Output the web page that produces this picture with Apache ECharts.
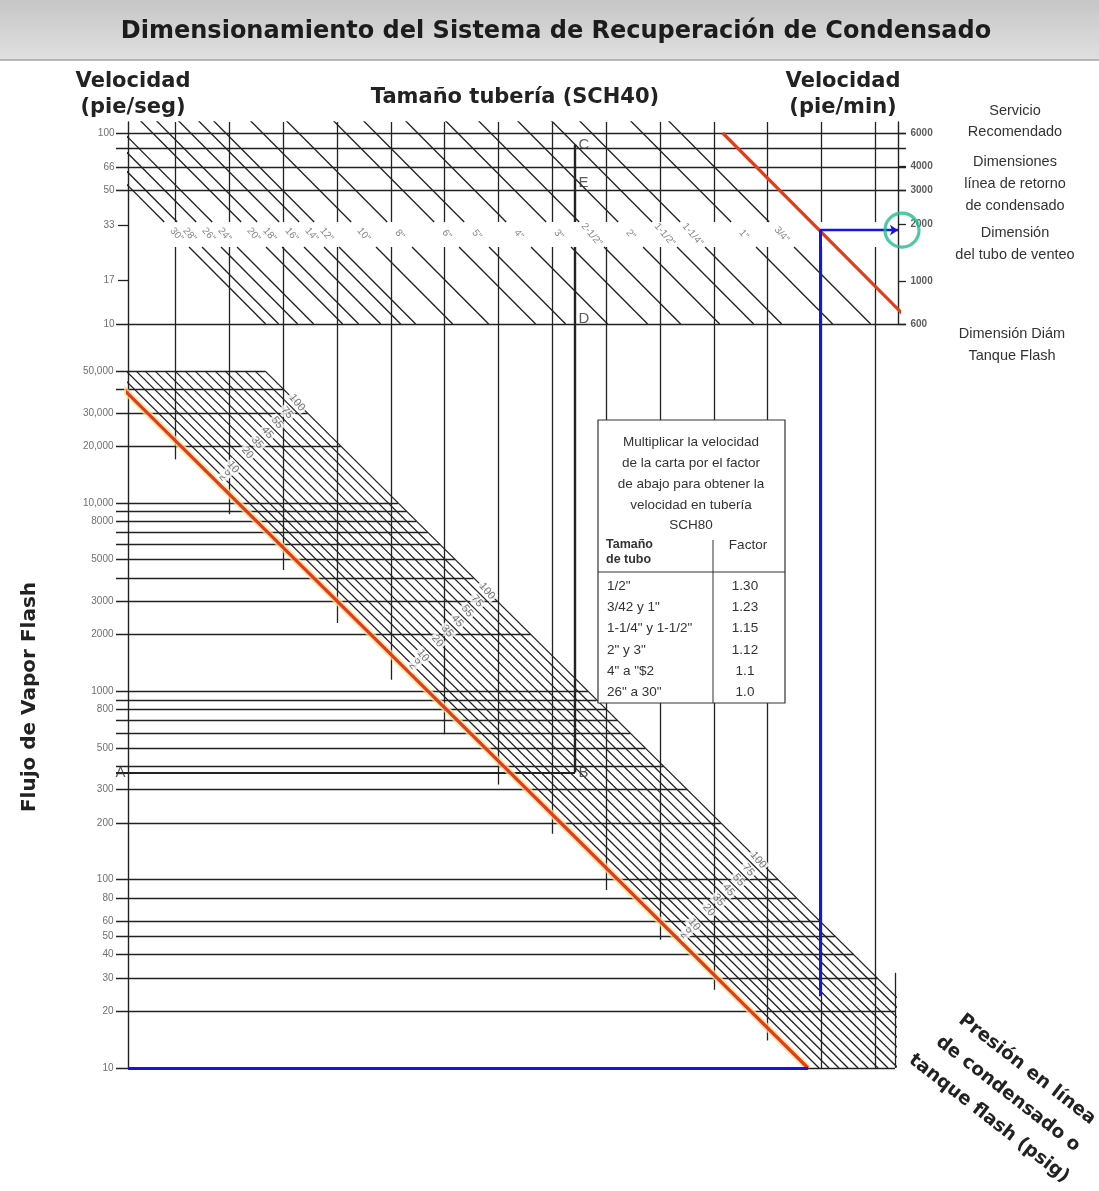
<!DOCTYPE html>
<html>
<head>
<meta charset="utf-8">
<title>Dimensionamiento del Sistema de Recuperación de Condensado</title>
<script src="https://cdn.jsdelivr.net/npm/echarts@6.0.0/dist/echarts.min.js"></script>
<style>
  html, body { margin: 0; padding: 0; background: #fff; }
  #chart { width: 1099px; height: 1191px; }
</style>
</head>
<body>
<div id="chart"></div>
<script>
// escala de velocidad (pie/seg) y su equivalente en pie/min
const velTicks = [100, 66, 50, 33, 17, 10];
const velLines = [100, 83, 66, 50, 10];
const velMinTicks = [6000, 4000, 3000, 2000, 1000, 600];

// flujo de vapor flash
const flowTicks = [50000, 30000, 20000, 10000, 8000, 5000, 3000, 2000, 1000, 800, 500, 300, 200, 100, 80, 60, 50, 40, 30, 20, 10];
const flowLines = [50000, 40000, 30000, 20000, 10000, 9000, 8000, 7000, 6000, 5000, 4000, 3000, 2000,
  1000, 900, 800, 700, 600, 500, 400, 300, 200, 100, 80, 60, 50, 40, 30, 20, 10];

// tamaño tuberia SCH40: posicion x de cada diagonal a 30 pie/seg
const pipeSizes = ['30"', '28"', '26"', '24"', '20"', '18"', '16"', '14"', '12"', '10"', '8"', '6"', '5"', '4"', '3"', '2-1/2"', '2"', '1-1/2"', '1-1/4"', '1"', '3/4"', '1/2"'];
const pipeX30 = [47, 60, 79, 95, 124, 140, 162, 182, 197, 234, 270, 317, 347, 389, 429, 462, 501, 535, 563, 614, 652, 694];

// columnas verticales y flujo donde terminan abajo
const colX = [47, 101, 155, 209, 263, 316, 370, 424, 478, 532, 586, 639, 693, 747];
const colEndFlow = [17000, 8700, 4400, 2300, 1150, 590, 320, 175, 88, 48, 26, 14, 10, 10];

// presion (psig): diagonales, posicion x en flujo = 10
const pressLabels = ['', '2', '5', '10', '', '', '20', '', '35', '', '45', '', '55', '', '75', '', '100'];
const pressX10 = [680, 691, 701, 711, 720, 730, 740, 750, 760, 770, 780, 790, 800, 810, 820, 830, 840];
const pressLabelFlow = [34000, 3400, 127];

// tabla SCH80
const tableSizes = ['1/2"', '3/42 y 1"', '1-1/4" y 1-1/2"', '2" y 3"', '4" a "$2', '26" a 30"'];
const tableFactors = ['1.30', '1.23', '1.15', '1.12', '1.1', '1.0'];

// ejemplo trazado
const exFlowAB = 370;
const exXCD = 447;
const exVelC = 87, exVelE = 54.7, exVelD = 10.7;
const blueX = 692, blueFlowLow = 24, blueVel = 31;
const edgeFlowTop = 32;

// geometria
const PX_DEC = 190;     // unidades x por decada en las diagonales
const TOP_DEC = 191;    // px por decada, velocidad
const BOT_DEC = 188.4;  // px por decada, flujo
const V_MAX = 10 * Math.pow(10, 202 / TOP_DEC);
const F_MAX = 10 * Math.pow(10, 744 / BOT_DEC);
const BAND_HI = 34.2, BAND_LO = 25.3;
const LINE = '#222';
const RED = '#e23c1b', BLUE = '#1515dc';

const pipeXAt = (x30, v) => x30 - PX_DEC * Math.log10(v / 30);
const pressXAt = (x10, f) => x10 - PX_DEC * Math.log10(f / 10);
const seg = (x1, y1, x2, y2) => ({ coords: [[x1, y1], [x2, y2]] });
const fmtNum = n => n >= 10000 ? String(n).replace(/\B(?=(\d{3})+(?!\d))/g, ',') : String(n);

function linesSeries(xi, yi, data, style, extra) {
  return Object.assign({
    type: 'lines', coordinateSystem: 'cartesian2d', xAxisIndex: xi, yAxisIndex: yi,
    polyline: false, silent: true, clip: true, data: data, z: 2,
    lineStyle: Object.assign({ color: LINE, width: 1.3, opacity: 1, curveness: 0 }, style)
  }, extra || {});
}
function textSeries(xi, yi, data, label, extra) {
  return Object.assign({
    type: 'scatter', xAxisIndex: xi, yAxisIndex: yi, symbol: 'circle', symbolSize: 1,
    itemStyle: { color: 'rgba(0,0,0,0)' }, silent: true, clip: false, z: 6, data: data,
    label: Object.assign({ show: true, formatter: p => p.data[2] }, label)
  }, extra || {});
}

// --- parte superior ---
const topH = velLines.map(v => seg(-12, v, 778, v));
velTicks.filter(v => velLines.indexOf(v) < 0).forEach(v => topH.push(seg(-10, v, 0, v)));
const rightTicks = velMinTicks.map(v => seg(770, v, 778, v));

const topV = [];
colX.forEach(x => {
  topV.push(seg(x, V_MAX, x, BAND_HI));
  topV.push(seg(x, BAND_LO, x, 10));
});

const pipeSegs = [];
pipeX30.forEach((x30, i) => {
  if (i === pipeX30.length - 1) return;
  pipeSegs.push(seg(pipeXAt(x30, V_MAX * 1.3), V_MAX * 1.3, pipeXAt(x30, BAND_HI), BAND_HI));
  pipeSegs.push(seg(pipeXAt(x30, BAND_LO), BAND_LO, pipeXAt(x30, 10), 10));
});
const x12 = pipeX30[pipeX30.length - 1];
const redTop = [seg(pipeXAt(x12, 100), 100, pipeXAt(x12, 9), 9)];

const pipeLabelData = pipeSizes.slice(0, -1).map((s, i) => [pipeXAt(pipeX30[i], 29.4), 29.4, s]);

// --- parte inferior ---
const outerX = pressX10[pressX10.length - 1];
const botH = flowLines.map(f => seg(-12, f, Math.min(767, pressXAt(outerX, f)), f));
flowTicks.filter(f => flowLines.indexOf(f) < 0).forEach(f => botH.push(seg(-12, f, 0, f)));

const botV = colX.map((x, i) => seg(x, F_MAX, x, colEndFlow[i]));
botV.push(seg(767, 10, 767, edgeFlowTop));

const pressSegs = pressX10.slice(1).map(x10 => seg(pressXAt(x10, 50000), 50000, x10, 10));
const redBot = [seg(pressXAt(pressX10[0], 50000), 50000, pressX10[0], 10)];

const pressLabelData = [];
pressLabelFlow.forEach(f100 => {
  pressX10.forEach((x10, i) => {
    if (!pressLabels[i]) return;
    const f = f100 * Math.pow(10, -0.5 * (outerX - x10) / BOT_DEC);
    pressLabelData.push([pressXAt(x10, f), f, pressLabels[i]]);
  });
});

const axisBase = {
  axisLine: { show: true, lineStyle: { color: LINE, width: 1.4 } },
  axisTick: { show: false }, axisLabel: { show: false }, splitLine: { show: false }
};
const tickLabelStyle = { color: '#4a4a4a', fontSize: 10, fontFamily: 'Liberation Sans' };
const headFont = 'bold 21px "DejaVu Sans"';

const option = {
  animation: false,
  backgroundColor: '#fff',
  grid: [
    { left: 128, top: 122, width: 770, height: 202 },
    { left: 128, top: 324, width: 767, height: 744 }
  ],
  xAxis: [
    { gridIndex: 0, type: 'value', min: 0, max: 770, show: false },
    { gridIndex: 1, type: 'value', min: 0, max: 767, show: false }
  ],
  yAxis: [
    Object.assign({ gridIndex: 0, type: 'log', min: 10, max: V_MAX, position: 'left' }, axisBase),
    Object.assign({ gridIndex: 0, type: 'log', min: 600, max: V_MAX * 60, position: 'right' }, axisBase),
    Object.assign({ gridIndex: 1, type: 'log', min: 10, max: F_MAX, position: 'left' }, axisBase)
  ],
  series: [
    linesSeries(0, 0, topH, {}, { clip: false }),
    linesSeries(0, 1, rightTicks, {}, { clip: false }),
    linesSeries(0, 0, topV, {}, { clip: false }),
    linesSeries(0, 0, pipeSegs, { width: 1.35 }),
    linesSeries(0, 0, redTop, { color: RED, width: 3.2 }, { z: 4 }),
    linesSeries(0, 0, [seg(exXCD, exVelC, exXCD, BAND_HI), seg(exXCD, BAND_LO, exXCD, 10)], { width: 2.4 }, { clip: false }),

    linesSeries(1, 2, botH, {}, { clip: false }),
    linesSeries(1, 2, botV, {}, { clip: false }),
    linesSeries(1, 2, pressSegs, { width: 1.3 }),
    linesSeries(1, 2, redBot, { color: 'rgba(246,226,150,0.75)', width: 7 }, { z: 3 }),
    linesSeries(1, 2, redBot, { color: RED, width: 3.2 }, { z: 4 }),
    linesSeries(1, 2, [seg(-12, exFlowAB, exXCD, exFlowAB)], { width: 2.2 }, { clip: false }),
    linesSeries(1, 2, [seg(exXCD, F_MAX, exXCD, exFlowAB)], { width: 2.4 }, { clip: false }),

    // recorrido azul
    linesSeries(1, 2, [seg(0, 10, pressX10[0], 10), seg(blueX, blueFlowLow, blueX, F_MAX)], { color: BLUE, width: 3 }, { clip: false, z: 5 }),
    linesSeries(0, 0, [seg(blueX, 10, blueX, blueVel)], { color: BLUE, width: 3 }, { clip: false, z: 5 }),
    linesSeries(0, 0, [seg(blueX, blueVel, 770, blueVel)], { color: BLUE, width: 2.4 },
      { clip: false, z: 5, symbol: ['none', 'arrow'], symbolSize: 8 }),
    {
      type: 'scatter', xAxisIndex: 0, yAxisIndex: 0, silent: true, clip: false, z: 7,
      symbol: 'circle', symbolSize: 34, data: [[774, blueVel]],
      itemStyle: { color: 'rgba(0,0,0,0)', borderColor: '#1ebd8c', borderWidth: 3.2 }
    },

    // rotulos de ejes
    textSeries(0, 0, velTicks.map(v => [0, v, String(v)]), Object.assign({ position: 'left', distance: 13 }, tickLabelStyle)),
    textSeries(0, 1, velMinTicks.map(v => [770, v, String(v)]),
      { position: 'right', distance: 12, color: '#333', fontSize: 10, fontWeight: 'bold', fontFamily: 'Liberation Sans' }),
    textSeries(1, 2, flowTicks.map(f => [0, f, fmtNum(f)]), Object.assign({ position: 'left', distance: 14 }, tickLabelStyle)),

    // rotulos de tuberia y presion
    textSeries(0, 0, pipeLabelData, { position: 'inside', rotate: -50, color: '#666', fontSize: 10, fontFamily: 'Liberation Sans' }),
    textSeries(1, 2, pressLabelData, {
      position: 'inside', rotate: -50, color: '#555', fontSize: 11, fontFamily: 'Liberation Sans',
      backgroundColor: '#fff', padding: [0, 2]
    }),

    // letras A..E
    textSeries(1, 2, [[0, exFlowAB, 'A']], { position: 'left', distance: 2, color: '#333', fontSize: 15, fontFamily: 'Liberation Sans' }),
    textSeries(1, 2, [[exXCD, exFlowAB, 'B']], { position: 'right', distance: 3, color: '#333', fontSize: 15, fontFamily: 'Liberation Sans' }),
    textSeries(0, 0, [[exXCD, exVelC, 'C'], [exXCD, exVelE, 'E'], [exXCD, exVelD, 'D']],
      { position: 'right', distance: 3, color: '#333', fontSize: 15, fontFamily: 'Liberation Sans' })
  ],
  graphic: [
    {
      type: 'rect', shape: { x: 0, y: 0, width: 1099, height: 60 }, z: -10,
      style: { fill: { type: 'linear', x: 0, y: 0, x2: 0, y2: 1, colorStops: [{ offset: 0, color: '#c6c6c6' }, { offset: 1, color: '#e0e0e0' }] } }
    },
    { type: 'line', shape: { x1: 0, y1: 60, x2: 1099, y2: 60 }, style: { stroke: '#a5a5a5', lineWidth: 1.5 } },
    {
      type: 'text', x: 556, y: 32,
      style: { text: 'Dimensionamiento del Sistema de Recuperación de Condensado', font: 'bold 24px "DejaVu Sans"', fill: '#1c1c1c', align: 'center', verticalAlign: 'middle' }
    },
    {
      type: 'text', x: 133, y: 95,
      style: { text: 'Velocidad\n(pie/seg)', font: headFont, lineHeight: 26, fill: '#222', align: 'center', verticalAlign: 'middle' }
    },
    {
      type: 'text', x: 515, y: 98,
      style: { text: 'Tamaño tubería (SCH40)', font: headFont, fill: '#222', align: 'center', verticalAlign: 'middle' }
    },
    {
      type: 'text', x: 843, y: 95,
      style: { text: 'Velocidad\n(pie/min)', font: headFont, lineHeight: 26, fill: '#222', align: 'center', verticalAlign: 'middle' }
    },
    { type: 'text', x: 1015, y: 121, style: { text: 'Servicio\nRecomendado', font: '14.5px "Liberation Sans"', lineHeight: 21, fill: '#333', align: 'center', verticalAlign: 'middle' } },
    { type: 'text', x: 1015, y: 184, style: { text: 'Dimensiones\nlínea de retorno\nde condensado', font: '14.5px "Liberation Sans"', lineHeight: 22, fill: '#333', align: 'center', verticalAlign: 'middle' } },
    { type: 'text', x: 1015, y: 244, style: { text: 'Dimensión\ndel tubo de venteo', font: '14.5px "Liberation Sans"', lineHeight: 22, fill: '#333', align: 'center', verticalAlign: 'middle' } },
    { type: 'text', x: 1012, y: 345, style: { text: 'Dimensión Diám\nTanque Flash', font: '14.5px "Liberation Sans"', lineHeight: 22, fill: '#333', align: 'center', verticalAlign: 'middle' } },
    {
      type: 'text', x: 30, y: 697, rotation: Math.PI / 2,
      style: { text: 'Flujo de Vapor Flash', font: 'bold 20px "DejaVu Sans"', fill: '#222', align: 'center', verticalAlign: 'middle' }
    },
    {
      type: 'text', x: 1008, y: 1094, rotation: -0.66,
      style: { text: 'Presión en línea\nde condensado o\ntanque flash (psig)', font: 'bold 18.5px "DejaVu Sans"', lineHeight: 31, fill: '#222', align: 'center', verticalAlign: 'middle' }
    },
    // tabla
    {
      type: 'group', z: 100,
      children: [
        { type: 'rect', z: 100, shape: { x: 598, y: 420, width: 187, height: 283 }, style: { fill: '#fff', stroke: '#333', lineWidth: 1.2 } },
        { type: 'line', z: 101, shape: { x1: 598, y1: 572, x2: 785, y2: 572 }, style: { stroke: '#333', lineWidth: 1 } },
        { type: 'line', z: 101, shape: { x1: 713, y1: 540, x2: 713, y2: 703 }, style: { stroke: '#333', lineWidth: 1 } },
        {
          type: 'text', z: 101, x: 691, y: 432,
          style: { text: 'Multiplicar la velocidad\nde la carta por el factor\nde abajo para obtener la\nvelocidad en tubería\nSCH80', font: '13.5px "Liberation Sans"', lineHeight: 20.8, fill: '#333', align: 'center', verticalAlign: 'top' }
        },
        { type: 'text', z: 101, x: 606, y: 537, style: { text: 'Tamaño\nde tubo', font: 'bold 12.5px "Liberation Sans"', lineHeight: 15, fill: '#333', align: 'left', verticalAlign: 'top' } },
        { type: 'text', z: 101, x: 748, y: 545, style: { text: 'Factor', font: '13.5px "Liberation Sans"', fill: '#333', align: 'center', verticalAlign: 'middle' } }
      ].concat(tableSizes.map((s, i) => ({
        type: 'text', z: 101, x: 607, y: 586 + i * 21.3,
        style: { text: s, font: '13.5px "Liberation Sans"', fill: '#333', align: 'left', verticalAlign: 'middle' }
      }))).concat(tableFactors.map((s, i) => ({
        type: 'text', z: 101, x: 745, y: 586 + i * 21.3,
        style: { text: s, font: '13.5px "Liberation Sans"', fill: '#333', align: 'center', verticalAlign: 'middle' }
      })))
    }
  ]
};

const chart = echarts.init(document.getElementById('chart'));
chart.setOption(option);
</script>
</body>
</html>
